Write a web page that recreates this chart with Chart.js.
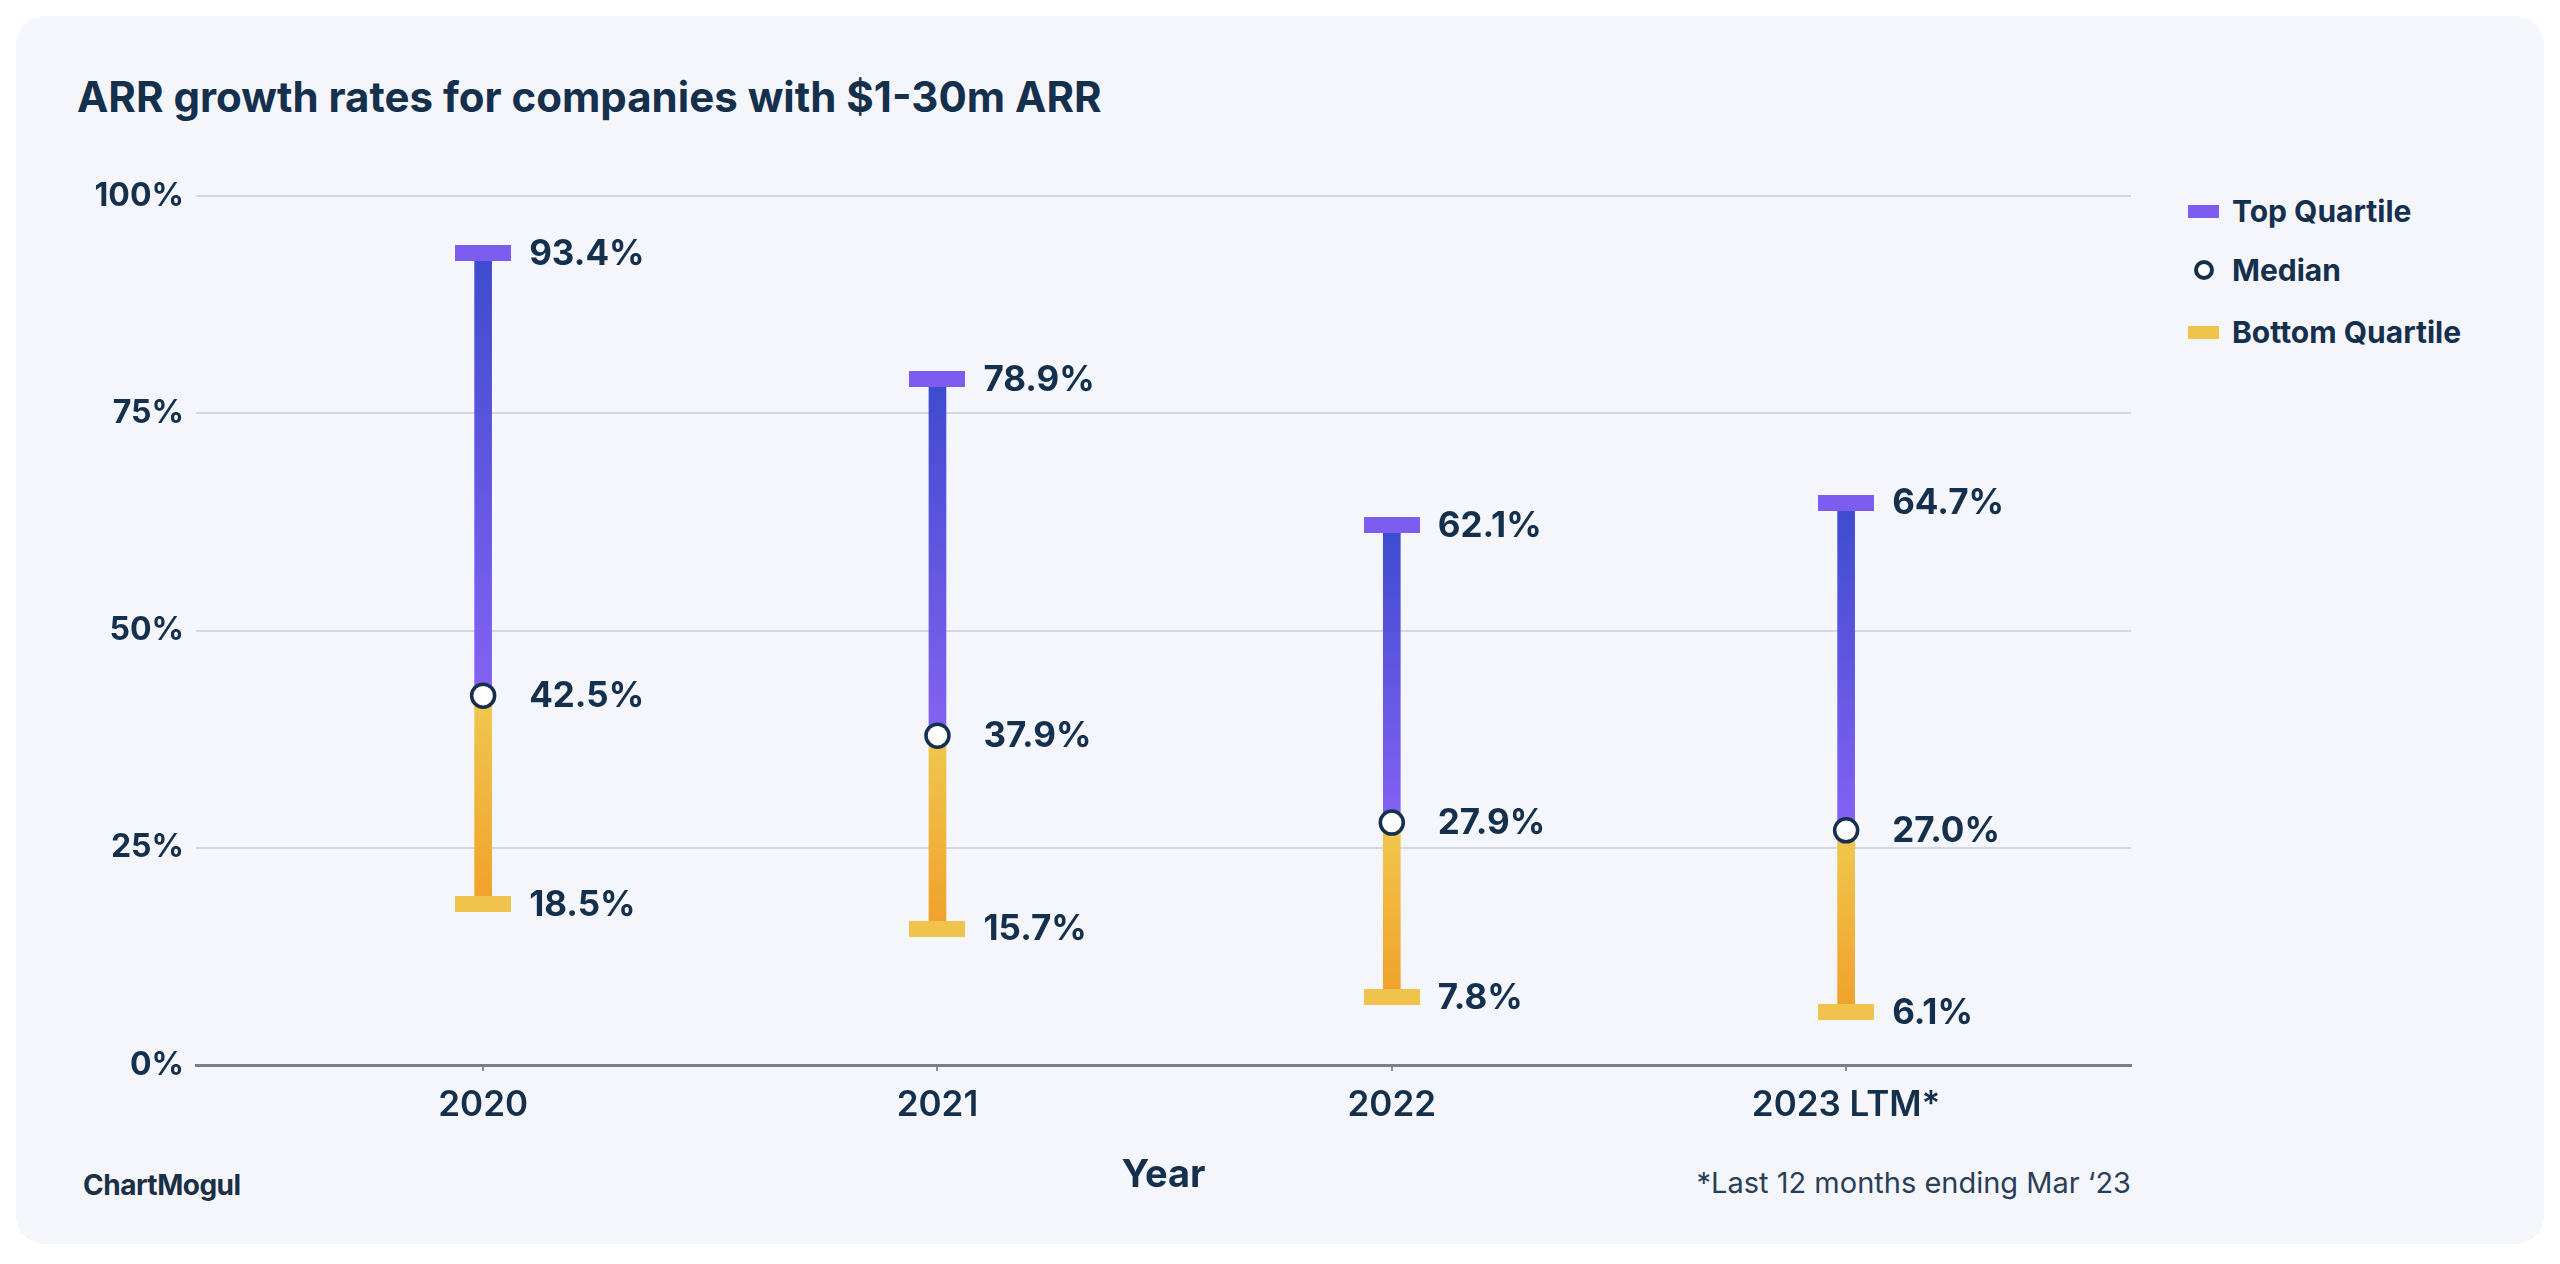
<!DOCTYPE html>
<html>
<head>
<meta charset="utf-8">
<script src="https://cdn.jsdelivr.net/npm/chart.js@4.4.0/dist/chart.umd.min.js"></script>
<style>
  html, body { margin: 0; padding: 0; background: #ffffff; }
  body { width: 2560px; height: 1264px; position: relative; overflow: hidden; font-family: Inter, "Noto Sans", sans-serif; color: #15304d; }
  .card { position: absolute; left: 16px; top: 16px; width: 2528px; height: 1228px; border-radius: 28px; background: #f4f6fc; }
  #chartWrap { position: absolute; left: 0; top: 0; width: 2560px; height: 1264px; }
  .title { position: absolute; left: 77px; top: 76px; font-size: 42px; line-height: 1; font-weight: 700; white-space: nowrap; }
  .legend { position: absolute; left: 2188px; top: 0; }
  .legend .row { position: absolute; left: 0; display: flex; align-items: center; height: 30px; white-space: nowrap; }
  .legend .sw { width: 31px; height: 13px; }
  .legend .dot { width: 20px; height: 20px; box-sizing: border-box; border: 4px solid #15304d; border-radius: 50%; background: #fff; margin: 0 5px 0 6px; }
  .legend .lbl { font-size: 30px; line-height: 1; font-weight: 700; margin-left: 13px; }
  .logo { position: absolute; left: 83px; top: 1171px; font-size: 28px; line-height: 1; font-weight: 700; letter-spacing: -0.5px; color: #1b2f45; }
  .note { position: absolute; right: 429px; top: 1168px; font-size: 29px; line-height: 1; font-weight: 400; color: #2a3f57; white-space: nowrap; }
</style>
</head>
<body>
<div class="card"></div>
<div class="title">ARR growth rates for companies with $1-30m ARR</div>
<div class="legend">
  <div class="row" style="top:196px"><div class="sw" style="background:#7d5cf0"></div><span class="lbl">Top Quartile</span></div>
  <div class="row" style="top:255px"><div class="dot"></div><span class="lbl">Median</span></div>
  <div class="row" style="top:317px"><div class="sw" style="background:#f0c44c"></div><span class="lbl">Bottom Quartile</span></div>
</div>
<div class="logo">ChartMogul</div>
<div class="note">*Last 12 months ending Mar ‘23</div>
<div id="chartWrap"><canvas id="chart"></canvas></div>

<script>
// data
const categories = ['2020', '2021', '2022', '2023 LTM*'];
const topQuartile = [93.4, 78.9, 62.1, 64.7];
const median = [42.5, 37.9, 27.9, 27.0];
const bottomQuartile = [18.5, 15.7, 7.8, 6.1];
const yTicks = [0, 25, 50, 75, 100];

const NAVY = '#15304d';

// flat cap marker drawn as point style
function capImage(color) {
    const c = document.createElement('canvas');
    c.width = 56;
    c.height = 16;
    const g = c.getContext('2d');
    g.fillStyle = color;
    g.fillRect(0, 0, 56, 16);
    return c;
}

function stemGradient(topColor, bottomColor) {
    return function(ctx) {
        if (ctx.type !== 'data') return topColor;
        const chart = ctx.chart;
        const y = chart.scales.y;
        if (!y || !chart.chartArea) return topColor;
        const r = ctx.raw.y;
        const y0 = y.getPixelForValue(Math.max(r[0], r[1]));
        const y1 = y.getPixelForValue(Math.min(r[0], r[1]));
        if (!isFinite(y0) || !isFinite(y1) || y0 === y1) return topColor;
        const grad = chart.ctx.createLinearGradient(0, y0, 0, y1);
        grad.addColorStop(0, topColor);
        grad.addColorStop(1, bottomColor);
        return grad;
    };
}

// value labels right of each marker
const valueLabels = {
    id: 'valueLabels',
    afterDatasetsDraw(chart) {
        const ctx = chart.ctx;
        ctx.save();
        ctx.font = '700 35px Inter, "Noto Sans", sans-serif';
        ctx.fillStyle = NAVY;
        ctx.textAlign = 'left';
        ctx.textBaseline = 'middle';
        chart.data.datasets.forEach((ds, di) => {
            if (!ds.showValues) return;
            const meta = chart.getDatasetMeta(di);
            meta.data.forEach((pt, i) => {
                const v = ds.data[i].y;
                ctx.fillText(v.toFixed(1) + '%', pt.x + 46, pt.y + 1);
            });
        });
        ctx.restore();
    }
};

const ctxMain = document.getElementById('chart');
new Chart(ctxMain.getContext('2d'), {
    data: {
        datasets: [
            {
                type: 'line', label: 'Median', order: 1, showLine: false, showValues: true,
                data: median.map((v, i) => ({ x: i, y: v })),
                pointRadius: 11.5, pointBackgroundColor: '#ffffff', pointBorderColor: NAVY, pointBorderWidth: 3.5
            },
            {
                type: 'line', label: 'Top Quartile', order: 2, showLine: false, showValues: true,
                data: topQuartile.map((v, i) => ({ x: i, y: v })),
                pointStyle: capImage('#7d5cf0'), pointRadius: 8
            },
            {
                type: 'line', label: 'Bottom Quartile', order: 2, showLine: false, showValues: true,
                data: bottomQuartile.map((v, i) => ({ x: i, y: v })),
                pointStyle: capImage('#f0c44c'), pointRadius: 8
            },
            {
                type: 'bar', label: 'Top range', order: 3, grouped: false, barThickness: 17,
                data: topQuartile.map((v, i) => ({ x: i, y: [median[i], v] })),
                backgroundColor: stemGradient('#3d4bcf', '#8562f3')
            },
            {
                type: 'bar', label: 'Bottom range', order: 3, grouped: false, barThickness: 17,
                data: bottomQuartile.map((v, i) => ({ x: i, y: [v, median[i]] })),
                backgroundColor: stemGradient('#efc84f', '#f1a02a')
            }
        ]
    },
    options: {
        responsive: true,
        maintainAspectRatio: false,
        animation: false,
        layout: { padding: { left: 76, top: 196, right: 429, bottom: 66 } },
        plugins: { legend: { display: false }, tooltip: { enabled: false } },
        scales: {
            x: {
                type: 'linear',
                offset: false,
                min: -0.632,
                max: 3.627,
                afterBuildTicks: (s) => { s.ticks = categories.map((c, i) => ({ value: i })); },
                afterFit: (s) => { s.height = 133; },
                ticks: {
                    callback: (v) => categories[v],
                    color: NAVY,
                    font: { family: 'Inter', size: 35, weight: '600' },
                    padding: 13,
                    maxRotation: 0,
                    autoSkip: false
                },
                grid: { offset: false, drawOnChartArea: false, tickLength: 6, color: '#8c929c', lineWidth: 2 },
                border: { display: true, color: '#7a808a', width: 3 },
                title: {
                    display: true,
                    text: 'Year',
                    color: NAVY,
                    font: { family: 'Inter', size: 38, weight: '700' },
                    padding: 0
                }
            },
            y: {
                min: 0,
                max: 100,
                afterBuildTicks: (s) => { s.ticks = yTicks.map(v => ({ value: v })); },
                afterFit: (s) => { s.width = 120; },
                ticks: {
                    callback: (v) => v + '%',
                    color: NAVY,
                    font: { family: 'Inter', size: 32, weight: '700' },
                    padding: 12
                },
                grid: {
                    drawTicks: false,
                    lineWidth: 2,
                    color: (c) => (c.tick && c.tick.value === 0) ? 'rgba(0,0,0,0)' : '#d5d8e1'
                },
                border: { display: false }
            }
        }
    },
    plugins: [valueLabels]
});
</script>
</body>
</html>
